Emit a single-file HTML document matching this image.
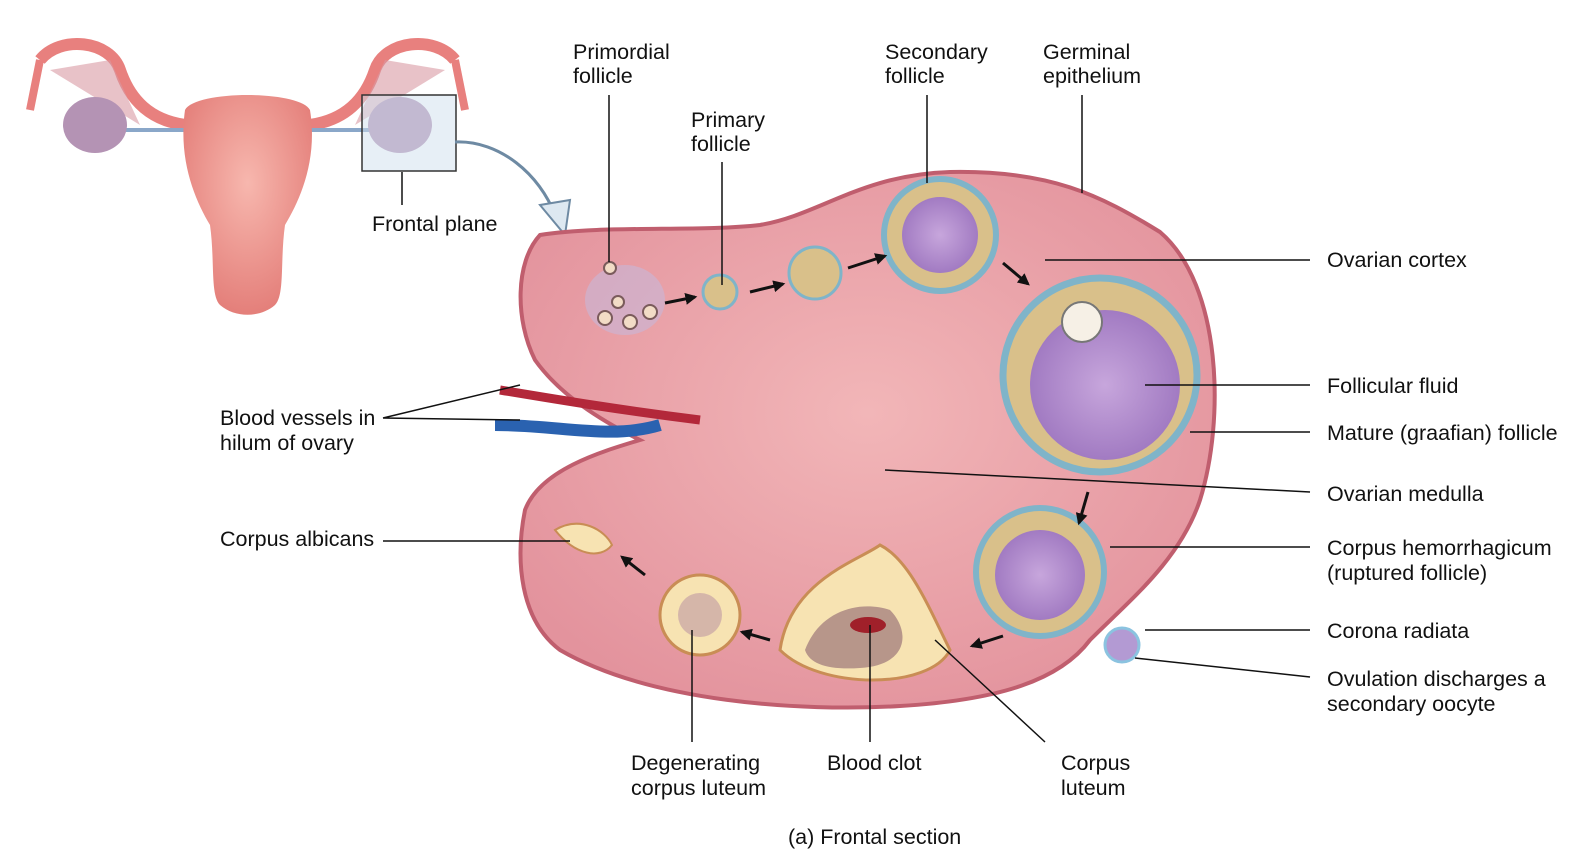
<!DOCTYPE html>
<html><head><meta charset="utf-8"><style>
html,body{margin:0;padding:0;background:#fff;}
svg{display:block;}
text{font-family:"Liberation Sans",sans-serif;font-size:21.5px;fill:#111;}
</style></head><body>
<svg width="1578" height="864" viewBox="0 0 1578 864">
<defs>
<radialGradient id="pk" cx="50%" cy="45%" r="60%"><stop offset="0" stop-color="#f2b6b8"/><stop offset="1" stop-color="#e3939d"/></radialGradient>
<radialGradient id="pu" cx="50%" cy="50%" r="60%"><stop offset="0" stop-color="#c7a6dc"/><stop offset="1" stop-color="#9a72bd"/></radialGradient>
<radialGradient id="ut" cx="50%" cy="40%" r="60%"><stop offset="0" stop-color="#f7b7ae"/><stop offset="1" stop-color="#e47f7a"/></radialGradient>
<marker id="ah" viewBox="0 0 10 10" refX="8" refY="5" markerWidth="4" markerHeight="4" orient="auto"><path d="M0 0 L10 5 L0 10 Z" fill="#111"/></marker>
</defs>

<g>
<path d="M40 60 C60 35 110 40 120 70 C130 100 150 120 185 125" fill="none" stroke="#e8807e" stroke-width="12"/>
<path d="M455 60 C435 35 385 40 375 70 C365 100 345 120 310 125" fill="none" stroke="#e8807e" stroke-width="12"/>
<path d="M40 60 L30 110" stroke="#e8807e" stroke-width="8"/>
<path d="M455 60 L465 110" stroke="#e8807e" stroke-width="8"/>
<path d="M50 70 L140 125 L110 60 Z" fill="#d99aa3" opacity="0.6"/>
<path d="M445 70 L355 125 L385 60 Z" fill="#d99aa3" opacity="0.6"/>
<path d="M110 130 L190 130 M305 130 L375 130" stroke="#8aa7c9" stroke-width="4"/>
<ellipse cx="95" cy="125" rx="32" ry="28" fill="#b493b4"/>
<ellipse cx="400" cy="125" rx="32" ry="28" fill="#b493b4"/>
<path d="M185 110 C195 90 300 90 310 110 C318 160 300 200 285 225 C280 260 285 295 275 305 C260 318 235 318 220 305 C210 295 215 260 210 225 C195 200 178 160 185 110 Z" fill="url(#ut)"/>
<rect x="362" y="95" width="94" height="76" fill="#cfe0ee" fill-opacity="0.5" stroke="#333" stroke-width="1.5"/>
<path d="M455 142 C500 140 540 175 555 215" fill="none" stroke="#6e8aa3" stroke-width="3"/>
<path d="M540 205 L565 235 L570 200 Z" fill="#dde8f1" stroke="#6e8aa3" stroke-width="2"/>
</g>

<g>
<path d="M540 235 C600 225 700 232 760 225 C820 215 860 175 950 172 C1050 170 1100 195 1160 232 C1222 285 1225 420 1200 500 C1180 560 1130 600 1090 640 C1060 680 1000 700 900 706 C800 712 650 702 560 650 C520 620 515 560 525 510 C540 470 600 452 640 440 C600 420 560 395 535 360 C515 320 515 262 540 235 Z" fill="url(#pk)" stroke="#c05e6e" stroke-width="4"/>
<path d="M500 390 C560 400 620 410 700 420" stroke="#b3283a" stroke-width="9" fill="none"/>
<path d="M495 425 C560 425 610 440 660 425" stroke="#2a62b0" stroke-width="12" fill="none"/>
<ellipse cx="625" cy="300" rx="40" ry="35" fill="#c8b7d8" opacity="0.6"/>
<g fill="#f2dcc6" stroke="#7a5b5b" stroke-width="2">
<circle cx="605" cy="318" r="7"/><circle cx="630" cy="322" r="7"/><circle cx="650" cy="312" r="7"/><circle cx="618" cy="302" r="6"/><circle cx="610" cy="268" r="6"/>
</g>
<circle cx="720" cy="292" r="17" fill="#d9c08a" stroke="#7fb4c9" stroke-width="3"/>
<circle cx="815" cy="273" r="26" fill="#d9c08a" stroke="#7fb4c9" stroke-width="3"/>
<circle cx="940" cy="235" r="56" fill="#d9c08a" stroke="#7fb4c9" stroke-width="6"/>
<circle cx="940" cy="235" r="38" fill="url(#pu)"/>
<circle cx="1100" cy="375" r="97" fill="#d9c08a" stroke="#7fb4c9" stroke-width="7"/>
<circle cx="1105" cy="385" r="75" fill="url(#pu)"/>
<circle cx="1082" cy="322" r="20" fill="#f6f0e6" stroke="#777" stroke-width="2"/>
<circle cx="1040" cy="572" r="64" fill="#d9c08a" stroke="#7fb4c9" stroke-width="6"/>
<circle cx="1040" cy="575" r="45" fill="url(#pu)"/>
<circle cx="1122" cy="645" r="17" fill="#b39ad3" stroke="#8bc3e0" stroke-width="3"/>
<path d="M780 650 C790 580 860 560 880 545 C910 560 930 610 950 650 C930 690 820 690 780 650 Z" fill="#f7e3b2" stroke="#c98d55" stroke-width="3"/>
<path d="M805 650 C820 610 860 600 890 610 C910 630 910 665 860 668 C830 670 810 665 805 650 Z" fill="#b7968a"/>
<ellipse cx="868" cy="625" rx="18" ry="8" fill="#a0202a"/>
<circle cx="700" cy="615" r="40" fill="#f7e3b2" stroke="#c98d55" stroke-width="3"/>
<circle cx="700" cy="615" r="22" fill="#d5b6a9"/>
<path d="M555 530 C580 515 605 530 612 545 C600 560 575 555 555 530 Z" fill="#f7e3b2" stroke="#c98d55" stroke-width="2"/>
</g>

<g stroke="#111" stroke-width="3" fill="none" marker-end="url(#ah)">
<path d="M665 303 L695 297"/><path d="M750 292 L783 284"/><path d="M848 268 L885 256"/><path d="M1003 263 L1028 284"/><path d="M1088 492 L1079 523"/><path d="M1003 636 L972 646"/><path d="M770 640 L742 632"/><path d="M645 575 L622 557"/>
</g>

<g stroke="#111" stroke-width="1.5" fill="none">
<path d="M609 95 V262"/><path d="M722 162 V285"/><path d="M927 95 V183"/><path d="M1082 95 V193"/><path d="M402 172 V205"/>
<path d="M1310 260 H1045"/><path d="M1310 385 H1145"/><path d="M1310 432 H1190"/><path d="M1310 492 L885 470"/>
<path d="M1310 547 H1110"/><path d="M1310 630 H1145"/><path d="M1310 677 L1135 658"/>
<path d="M383 418 L520 385 M383 418 L520 420"/><path d="M383 541 H570"/>
<path d="M692 630 V742"/><path d="M870 625 V742"/><path d="M1045 742 L935 640"/>
</g>

<g transform="translate(5,1)">
<text x="568" y="58">Primordial</text><text x="568" y="82">follicle</text>
<text x="686" y="126">Primary</text><text x="686" y="150">follicle</text>
<text x="880" y="58">Secondary</text><text x="880" y="82">follicle</text>
<text x="1038" y="58">Germinal</text><text x="1038" y="82">epithelium</text>
<text x="367" y="230">Frontal plane</text>
<text x="1322" y="266">Ovarian cortex</text>
<text x="1322" y="392">Follicular fluid</text>
<text x="1322" y="439">Mature (graafian) follicle</text>
<text x="1322" y="500">Ovarian medulla</text>
<text x="1322" y="554">Corpus hemorrhagicum</text><text x="1322" y="579">(ruptured follicle)</text>
<text x="1322" y="637">Corona radiata</text>
<text x="1322" y="685">Ovulation discharges a</text><text x="1322" y="710">secondary oocyte</text>
<text x="215" y="424">Blood vessels in</text><text x="215" y="449">hilum of ovary</text>
<text x="215" y="545">Corpus albicans</text>
<text x="626" y="769">Degenerating</text><text x="626" y="794">corpus luteum</text>
<text x="822" y="769">Blood clot</text>
<text x="1056" y="769">Corpus</text><text x="1056" y="794">luteum</text>
<text x="783" y="843">(a) Frontal section</text>
</g>
</svg>
</body></html>
